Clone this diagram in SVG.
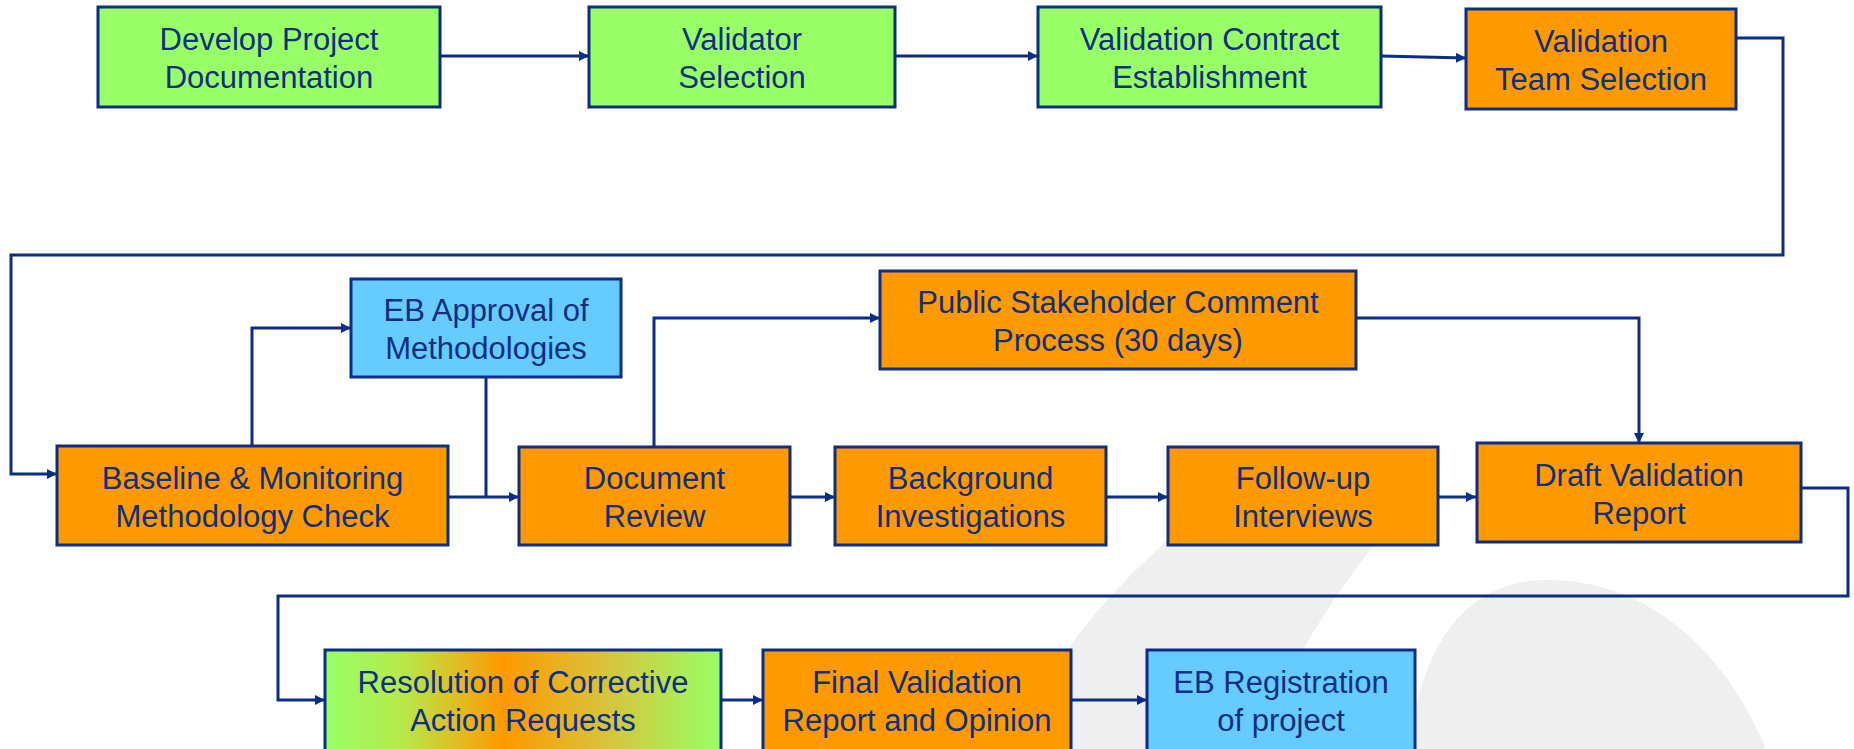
<svg xmlns="http://www.w3.org/2000/svg" width="1854" height="749" viewBox="0 0 1854 749">
<defs>
<style>
.box{stroke:#0b2d86;stroke-width:3}
.g{fill:#99ff66}.o{fill:#ff9900}.b{fill:#66ccff}
text{font-family:"Liberation Sans",Arial,sans-serif;font-size:31px;fill:#0f2f82;text-anchor:middle}
.c{fill:none;stroke:#0b2d86;stroke-width:3}
.wm{fill:#efefef}
</style>
<marker id="ah" markerUnits="userSpaceOnUse" markerWidth="12" markerHeight="12" refX="10" refY="5" orient="auto">
<path d="M0,0 L10,5 L0,10 Z" fill="#0b2d86"/>
</marker>
<linearGradient id="grad" x1="0" y1="0" x2="1" y2="0">
<stop offset="0" stop-color="#99ff66"/>
<stop offset="0.2" stop-color="#b8e84a"/>
<stop offset="0.45" stop-color="#ff9900"/>
<stop offset="0.7" stop-color="#d9c23a"/>
<stop offset="1" stop-color="#99ff66"/>
</linearGradient>
</defs>
<rect width="1854" height="749" fill="#ffffff"/>
<g id="watermark">
<path class="wm" d="M1260,470 L1440,470 Q1330,580 1250,749 L1010,749 Q1080,590 1260,470 Z"/>
<path class="wm" d="M1410,749 C1420,640 1470,580 1547,580 C1640,580 1720,640 1766,749 Z"/>
</g>
<g id="connectors">
<path class="c" d="M440,56 H589" marker-end="url(#ah)"/>
<path class="c" d="M895,56 H1038" marker-end="url(#ah)"/>
<path class="c" d="M1381,56 L1466,58" marker-end="url(#ah)"/>
<path class="c" d="M1736,38 H1783 V255 H11 V474 H57" marker-end="url(#ah)"/>
<path class="c" d="M252,446 V328 H351" marker-end="url(#ah)"/>
<path class="c" d="M486,377 V497"/>
<path class="c" d="M448,497 H519" marker-end="url(#ah)"/>
<path class="c" d="M654,447 V318 H880" marker-end="url(#ah)"/>
<path class="c" d="M1356,318 H1639 V443" marker-end="url(#ah)"/>
<path class="c" d="M790,497 H835" marker-end="url(#ah)"/>
<path class="c" d="M1106,497 H1168" marker-end="url(#ah)"/>
<path class="c" d="M1438,497 H1476" marker-end="url(#ah)"/>
<path class="c" d="M1801,488 H1848 V596 H278 V700 H325" marker-end="url(#ah)"/>
<path class="c" d="M721,700 H763" marker-end="url(#ah)"/>
<path class="c" d="M1071,700 H1147" marker-end="url(#ah)"/>
</g>
<g id="n1"><rect class="box g" x="98" y="7" width="342" height="100"/><text x="269" y="50">Develop Project</text><text x="269" y="88">Documentation</text></g>
<g id="n2"><rect class="box g" x="589" y="7" width="306" height="100"/><text x="742" y="50">Validator</text><text x="742" y="88">Selection</text></g>
<g id="n3"><rect class="box g" x="1038" y="7" width="343" height="100"/><text x="1209.5" y="50">Validation Contract</text><text x="1209.5" y="88">Establishment</text></g>
<g id="n4"><rect class="box o" x="1466" y="9" width="270" height="100"/><text x="1601" y="52">Validation</text><text x="1601" y="90">Team Selection</text></g>
<g id="n5"><rect class="box b" x="351" y="279" width="270" height="98"/><text x="486" y="321">EB Approval of</text><text x="486" y="359">Methodologies</text></g>
<g id="n6"><rect class="box o" x="880" y="271" width="476" height="98"/><text x="1118" y="313">Public Stakeholder Comment</text><text x="1118" y="351">Process (30 days)</text></g>
<g id="n7"><rect class="box o" x="57" y="446" width="391" height="99"/><text x="252.5" y="489">Baseline &amp; Monitoring</text><text x="252.5" y="527">Methodology Check</text></g>
<g id="n8"><rect class="box o" x="519" y="447" width="271" height="98"/><text x="654.5" y="489">Document</text><text x="654.5" y="527">Review</text></g>
<g id="n9"><rect class="box o" x="835" y="447" width="271" height="98"/><text x="970.5" y="489">Background</text><text x="970.5" y="527">Investigations</text></g>
<g id="n10"><rect class="box o" x="1168" y="447" width="270" height="98"/><text x="1303" y="489">Follow-up</text><text x="1303" y="527">Interviews</text></g>
<g id="n11"><rect class="box o" x="1477" y="443" width="324" height="99"/><text x="1639" y="486">Draft Validation</text><text x="1639" y="524">Report</text></g>
<g id="n12"><rect class="box" fill="url(#grad)" x="325" y="650" width="396" height="102"/><text x="523" y="693">Resolution of Corrective</text><text x="523" y="731">Action Requests</text></g>
<g id="n13"><rect class="box o" x="763" y="650" width="308" height="102"/><text x="917" y="693">Final Validation</text><text x="917" y="731">Report and Opinion</text></g>
<g id="n14"><rect class="box b" x="1147" y="650" width="268" height="102"/><text x="1281" y="693">EB Registration</text><text x="1281" y="731">of project</text></g>
</svg>
